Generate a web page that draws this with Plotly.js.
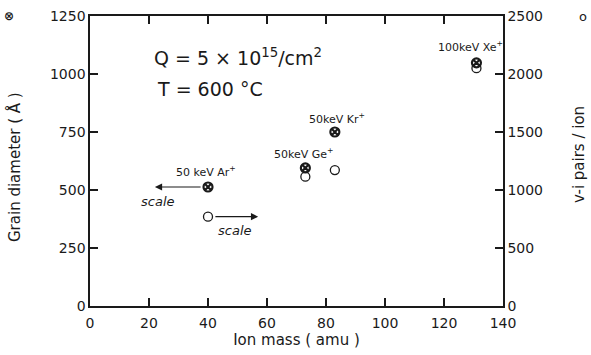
<!DOCTYPE html>
<html>
<head>
<meta charset="utf-8">
<script src="https://cdn.plot.ly/plotly-3.0.1.min.js"></script>
<style>html,body{margin:0;padding:0;background:#fff;}#chart{width:591px;height:355px;}</style>
</head>
<body>
<div id="chart"></div>
<script>
// Data
var ionMass = [40, 73, 83, 131];
var grainDiameter = [513, 595, 750, 1048];     // Å (left axis, ⊗)
var viPairs = [770, 1115, 1172, 2050];         // v-i pairs / ion (right axis, o)
var ionLabels = ["50 keV Ar<sup>+</sup>", "50keV Ge<sup>+</sup>", "50keV Kr<sup>+</sup>", "100keV Xe<sup>+</sup>"];
var xTicks = [0, 20, 40, 60, 80, 100, 120, 140];
var yTicks = [0, 250, 500, 750, 1000, 1250];
var y2Ticks = [0, 500, 1000, 1500, 2000, 2500];

var F = "DejaVu Sans, sans-serif";
var C = "#1a1a1a";

var traces = [
  {x: ionMass, y: grainDiameter, type: "scatter", mode: "markers", yaxis: "y",
   marker: {symbol: "circle-x-open", size: 9, color: C, line: {width: 2.2, color: C}}},
  {x: ionMass, y: viPairs, type: "scatter", mode: "markers", yaxis: "y2",
   marker: {symbol: "circle-open", size: 9, color: C, line: {width: 1.3, color: C}}}
];

var annotations = [
  {xref: "paper", yref: "paper", x: (152-90)/413, y: 1-(57-16)/290, xanchor: "left", yanchor: "middle", showarrow: false,
   text: "Q = 5 × 10<sup>15</sup>/cm<sup>2</sup>", font: {family: F, size: 19, color: C}},
  {xref: "paper", yref: "paper", x: (155-90)/413, y: 1-(89-16)/290, xanchor: "left", yanchor: "middle", showarrow: false,
   text: "T = 600 °C", font: {family: F, size: 19, color: C}},
  {x: ionMass[0], y: grainDiameter[0], xref: "x", yref: "y", showarrow: false, xshift: -2, yshift: 15,
   text: ionLabels[0], font: {family: F, size: 11, color: C}},
  {x: ionMass[1], y: grainDiameter[1], xref: "x", yref: "y", showarrow: false, xshift: -1, yshift: 14,
   text: ionLabels[1], font: {family: F, size: 11, color: C}},
  {x: ionMass[2], y: grainDiameter[2], xref: "x", yref: "y", showarrow: false, xshift: 2, yshift: 14,
   text: ionLabels[2], font: {family: F, size: 11, color: C}},
  {x: ionMass[3], y: grainDiameter[3], xref: "x", yref: "y", showarrow: false, xshift: -6, yshift: 16,
   text: ionLabels[3], font: {family: F, size: 11, color: C}},
  // scale arrows
  {x: 22, y: grainDiameter[0], ax: 38, ay: grainDiameter[0], xref: "x", yref: "y", axref: "x", ayref: "y",
   showarrow: true, arrowhead: 2, arrowsize: 1.2, arrowwidth: 1.2, arrowcolor: C, text: ""},
  {x: 23, y: grainDiameter[0], xref: "x", yref: "y", showarrow: false, yshift: -15,
   text: "<i>scale</i>", font: {family: F, size: 13, color: C}},
  {x: 57, y: viPairs[0], ax: 42, ay: viPairs[0], xref: "x", yref: "y2", axref: "x", ayref: "y2",
   showarrow: true, arrowhead: 2, arrowsize: 1.2, arrowwidth: 1.2, arrowcolor: C, text: ""},
  {x: 49, y: viPairs[0], xref: "x", yref: "y2", showarrow: false, yshift: -14,
   text: "<i>scale</i>", font: {family: F, size: 13, color: C}},
  // axis titles
  {xref: "paper", yref: "paper", x: (14-90)/413, y: 1-(167-16)/290, textangle: -90, showarrow: false,
   xanchor: "center", yanchor: "middle", text: "Grain diameter ( Å )", font: {family: F, size: 15, color: C}},
  {xref: "paper", yref: "paper", x: (579-90)/413, y: 1-(155-16)/290, textangle: -90, showarrow: false,
   xanchor: "center", yanchor: "middle", text: "v-i pairs / ion", font: {family: F, size: 15, color: C}},
  // symbol keys
  {xref: "paper", yref: "paper", x: (9-90)/413, y: 1, showarrow: false, xanchor: "center", yanchor: "middle",
   text: "<b>⊗</b>", font: {family: F, size: 12, color: C}},
  {xref: "paper", yref: "paper", x: (583-90)/413, y: 1, showarrow: false, xanchor: "center", yanchor: "middle",
   text: "o", font: {family: F, size: 13, color: C}}
];

var layout = {
  width: 591, height: 355,
  margin: {l: 90, r: 88, t: 16, b: 49},
  paper_bgcolor: "#fff", plot_bgcolor: "#fff",
  showlegend: false,
  font: {family: F, size: 14, color: C},
  xaxis: {range: [0, 140], tickvals: xTicks, ticks: "inside", ticklen: 8, tickwidth: 1.2, tickcolor: C,
          showline: true, linecolor: C, linewidth: 1.6, mirror: "ticks", showgrid: false, zeroline: false,
          ticklabelstandoff: 4,
          tickfont: {family: F, size: 14, color: C},
          title: {text: "Ion mass ( amu )", font: {family: F, size: 15, color: C}, standoff: 3}},
  yaxis: {range: [0, 1250], tickvals: yTicks, ticks: "inside", ticklen: 8, tickwidth: 1.2, tickcolor: C,
          showline: true, linecolor: C, linewidth: 1.6, showgrid: false, zeroline: false,
          tickfont: {family: F, size: 14, color: C}},
  yaxis2: {range: [0, 2500], tickvals: y2Ticks, ticks: "inside", ticklen: 8, tickwidth: 1.2, tickcolor: C,
           overlaying: "y", side: "right", showline: true, linecolor: C, linewidth: 1.6,
           showgrid: false, zeroline: false, tickfont: {family: F, size: 14, color: C}},
  annotations: annotations
};

Plotly.newPlot("chart", traces, layout, {displayModeBar: false, staticPlot: true});
</script>
</body>
</html>
